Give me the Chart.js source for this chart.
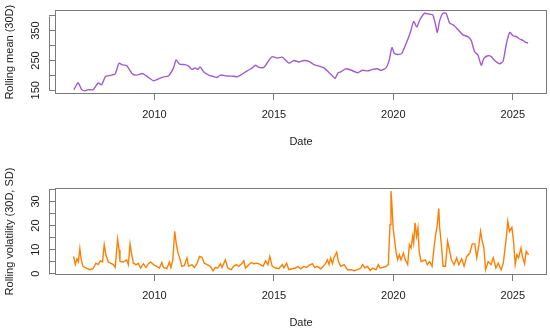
<!DOCTYPE html>
<html>
<head>
<meta charset="utf-8">
<script src="https://cdn.jsdelivr.net/npm/chart.js@4.4.1/dist/chart.umd.min.js"></script>
<style>
  body { margin: 0; background: #fff; }
  canvas { position: absolute; left: 0; }
  #meanChart { top: 0; }
  #volChart { top: 165px; }
</style>
</head>
<body>
<canvas id="meanChart" width="550" height="165"></canvas>
<canvas id="volChart" width="550" height="166"></canvas>
<script>
// x axis (decimal years)
let xTicks = [2010, 2015, 2020, 2025];

// rolling mean (30D)
let meanYears = [2006.63, 2006.81, 2006.95, 2007.09, 2007.23, 2007.44, 2007.65, 2007.79, 2007.95, 2008.14,
    2008.35, 2008.52, 2008.66, 2008.84, 2008.95, 2009.09, 2009.26, 2009.51, 2009.75, 2009.96,
    2010.17, 2010.38, 2010.59, 2010.80, 2010.91, 2011.05, 2011.29, 2011.43, 2011.57, 2011.71,
    2011.81, 2011.92, 2012.06, 2012.27, 2012.48, 2012.62, 2012.76, 2013.04, 2013.32, 2013.46,
    2013.67, 2013.88, 2014.09, 2014.23, 2014.37, 2014.58, 2014.76, 2014.93, 2015.14, 2015.35,
    2015.63, 2015.84, 2016.05, 2016.26, 2016.47, 2016.68, 2016.89, 2017.10, 2017.31, 2017.45,
    2017.56, 2017.69, 2017.80, 2018.01, 2018.22, 2018.50, 2018.71, 2018.92, 2019.13, 2019.34,
    2019.48, 2019.69, 2019.83, 2019.94, 2020.04, 2020.18, 2020.35, 2020.53, 2020.71, 2020.85,
    2020.98, 2021.10, 2021.30, 2021.51, 2021.65, 2021.75, 2021.84, 2021.93, 2022.07, 2022.21,
    2022.35, 2022.53, 2022.70, 2022.91, 2023.12, 2023.26, 2023.40, 2023.54, 2023.68, 2023.79,
    2023.96, 2024.10, 2024.24, 2024.45, 2024.59, 2024.73, 2024.87, 2025.01, 2025.15, 2025.29,
    2025.43, 2025.53, 2025.64];
let meanValues = [152, 175, 153, 148, 152, 152, 175, 168, 196, 200,
    204, 241, 235, 233, 220, 204, 201, 206, 193, 182,
    188, 195, 198, 225, 252, 238, 236, 231, 220, 225,
    220, 228, 212, 201, 196, 193, 201, 198, 197, 195,
    204, 215, 225, 234, 227, 227, 247, 263, 258, 261,
    241, 250, 245, 250, 247, 236, 231, 225, 209, 198,
    190, 209, 212, 222, 218, 209, 217, 215, 220, 222,
    217, 225, 252, 293, 274, 270, 274, 306, 344, 381,
    362, 385, 408, 405, 403, 376, 344, 381, 408, 408,
    376, 368, 354, 336, 330, 317, 279, 268, 234, 257,
    266, 263, 250, 239, 247, 306, 344, 333, 330, 322,
    317, 311, 309];
let meanTicks = [150, 200, 250, 300, 350, 400];
let meanTickLabels = [150, 250, 350];

// rolling volatility (30D, SD)
let volYears = [2006.62, 2006.69, 2006.76, 2006.82, 2006.88, 2006.93, 2007.01, 2007.15, 2007.30, 2007.43,
    2007.55, 2007.65, 2007.74, 2007.83, 2007.90, 2007.97, 2008.07, 2008.16, 2008.28, 2008.36,
    2008.46, 2008.52, 2008.56, 2008.70, 2008.84, 2008.91, 2008.98, 2009.05, 2009.12, 2009.23,
    2009.33, 2009.42, 2009.54, 2009.65, 2009.75, 2009.84, 2009.96, 2010.10, 2010.21, 2010.31,
    2010.38, 2010.52, 2010.63, 2010.69, 2010.77, 2010.85, 2010.91, 2010.98, 2011.08, 2011.15,
    2011.25, 2011.36, 2011.43, 2011.57, 2011.67, 2011.78, 2011.89, 2011.99, 2012.09, 2012.20,
    2012.34, 2012.45, 2012.55, 2012.65, 2012.76, 2012.83, 2012.97, 2013.07, 2013.21, 2013.32,
    2013.43, 2013.53, 2013.67, 2013.74, 2013.81, 2013.95, 2014.05, 2014.16, 2014.30, 2014.44,
    2014.55, 2014.65, 2014.75, 2014.83, 2014.93, 2015.07, 2015.21, 2015.35, 2015.42, 2015.53,
    2015.63, 2015.77, 2015.91, 2016.01, 2016.12, 2016.26, 2016.37, 2016.47, 2016.61, 2016.71,
    2016.82, 2016.96, 2017.07, 2017.17, 2017.24, 2017.31, 2017.38, 2017.45, 2017.52, 2017.63,
    2017.70, 2017.80, 2017.94, 2018.08, 2018.22, 2018.36, 2018.50, 2018.64, 2018.71, 2018.81,
    2018.92, 2019.03, 2019.13, 2019.27, 2019.37, 2019.45, 2019.55, 2019.69, 2019.79, 2019.86,
    2019.90, 2019.94, 2019.99, 2020.04, 2020.11, 2020.18, 2020.25, 2020.32, 2020.42, 2020.50,
    2020.60, 2020.67, 2020.74, 2020.81, 2020.85, 2020.91, 2020.97, 2021.03, 2021.08, 2021.16,
    2021.34, 2021.42, 2021.52, 2021.62, 2021.70, 2021.77, 2021.83, 2021.90, 2021.94, 2022.01,
    2022.08, 2022.18, 2022.27, 2022.33, 2022.43, 2022.54, 2022.65, 2022.74, 2022.86, 2022.96,
    2023.07, 2023.20, 2023.30, 2023.41, 2023.49, 2023.58, 2023.65, 2023.72, 2023.79, 2023.86,
    2023.97, 2024.09, 2024.18, 2024.29, 2024.39, 2024.51, 2024.60, 2024.71, 2024.79, 2024.86,
    2024.96, 2025.03, 2025.10, 2025.17, 2025.24, 2025.34, 2025.40, 2025.49, 2025.56, 2025.66];
let volValues = [7.2, 3.8, 6.2, 5.0, 10.4, 6.2, 3.1, 2.4, 1.7, 2.1,
    4.4, 3.8, 5.4, 4.9, 12.1, 7.9, 4.9, 4.4, 3.8, 2.6,
    14.4, 10.0, 5.1, 4.9, 5.8, 3.8, 12.4, 7.9, 4.4, 3.8,
    4.3, 2.4, 4.2, 2.6, 4.2, 4.9, 3.8, 3.1, 2.4, 4.7,
    2.6, 2.1, 4.9, 2.6, 5.8, 17.6, 12.8, 9.0, 5.8, 3.1,
    3.4, 6.6, 3.1, 3.8, 2.6, 4.2, 7.2, 6.8, 4.4, 3.8,
    3.1, 1.3, 2.6, 2.4, 4.2, 2.6, 5.8, 2.4, 1.7, 3.1,
    3.8, 3.1, 4.4, 5.4, 2.4, 3.8, 4.7, 4.2, 4.4, 3.8,
    3.1, 5.4, 3.8, 7.2, 3.1, 2.4, 2.1, 3.8, 2.4, 4.4,
    1.7, 2.1, 2.4, 3.1, 2.1, 3.1, 2.6, 3.5, 4.2, 2.6,
    3.1, 2.1, 3.1, 4.4, 5.8, 3.8, 6.6, 4.2, 6.8, 9.0,
    5.1, 3.1, 3.8, 1.7, 1.7, 1.3, 1.7, 2.4, 3.8, 2.4,
    3.1, 1.3, 2.4, 1.7, 3.8, 2.4, 2.6, 3.1, 3.8, 20.4,
    34.3, 28.8, 19.0, 14.9, 9.3, 5.8, 7.9, 5.8, 8.6, 5.8,
    3.8, 12.1, 10.7, 15.6, 12.8, 21.2, 15.5, 19.0, 9.3, 5.1,
    5.8, 3.8, 5.1, 3.1, 10.7, 16.3, 19.7, 27.1, 19.0, 12.0,
    3.1, 3.1, 13.5, 10.7, 5.8, 3.8, 6.6, 3.8, 6.2, 3.1,
    7.2, 8.6, 12.4, 12.4, 6.6, 12.1, 17.6, 13.5, 10.7, 1.7,
    5.1, 3.8, 6.6, 2.4, 4.4, 1.7, 4.4, 13.5, 21.8, 17.6,
    19.3, 13.5, 3.8, 7.9, 6.6, 10.7, 7.2, 4.2, 9.3, 7.9];
let volTicks = [0, 5, 10, 15, 20, 25, 30, 35];
let volTickLabels = [0, 10, 20, 30];

Chart.defaults.font.family = '"Liberation Sans", Arial, sans-serif';
Chart.defaults.font.size = 11;
Chart.defaults.color = '#1a1a1a';

let axisGrey = '#7a7a7a';

// box round the plot area plus the R style axis line between first and last tick
let boxPlugin = {
    id: 'box',
    afterDraw(chart) {
        let ctx = chart.ctx;
        let a = chart.chartArea;
        let y = chart.scales.y;
        ctx.save();
        ctx.strokeStyle = axisGrey;
        ctx.lineWidth = 1;
        ctx.strokeRect(Math.round(a.left) + 0.5, Math.round(a.top) + 0.5,
            Math.round(a.right - a.left) - 1, Math.round(a.bottom - a.top) - 1);
        let t = y.ticks;
        let x0 = Math.round(a.left) - 6 + 0.5;
        ctx.beginPath();
        ctx.moveTo(x0, Math.round(y.getPixelForValue(t[0].value)) + 0.5);
        ctx.lineTo(x0, Math.round(y.getPixelForValue(t[t.length - 1].value)) + 0.5);
        ctx.stroke();
        ctx.restore();
    }
};

function makeChart(id, years, values, color, yTicks, yLabels, yMin, yMax, yTitle, opts) {
    let ctx = document.getElementById(id).getContext('2d');
    return new Chart(ctx, {
        type: 'line',
        data: {
            datasets: [{
                data: years.map((x, i) => ({ x: x, y: values[i] })),
                borderColor: color,
                borderWidth: 1.4,
                pointRadius: 0,
                fill: false,
                tension: opts.tension
            }]
        },
        options: {
            responsive: false,
            animation: false,
            devicePixelRatio: 1,
            layout: {
                padding: { left: 0, right: 3, top: opts.top, bottom: 0 }
            },
            plugins: {
                legend: { display: false },
                tooltip: { enabled: false }
            },
            scales: {
                x: {
                    type: 'linear',
                    min: 2005.84,
                    max: 2026.43,
                    afterBuildTicks: (s) => { s.ticks = xTicks.map(v => ({ value: v })); },
                    afterFit: (s) => { s.height = opts.xHeight; },
                    border: { display: false },
                    grid: { drawOnChartArea: false, tickLength: 6, color: axisGrey },
                    ticks: {
                        autoSkip: false,
                        maxRotation: 0,
                        padding: 8.5,
                        callback: (v) => String(v)
                    },
                    title: {
                        display: true,
                        text: 'Date',
                        padding: { top: 0, bottom: opts.titlePad }
                    }
                },
                y: {
                    type: 'linear',
                    min: yMin,
                    max: yMax,
                    afterBuildTicks: (s) => { s.ticks = yTicks.map(v => ({ value: v })); },
                    afterFit: (s) => { s.width = 55; },
                    border: { display: false },
                    grid: { drawOnChartArea: false, tickLength: 6, color: axisGrey },
                    ticks: {
                        autoSkip: false,
                        minRotation: 90,
                        maxRotation: 90,
                        crossAlign: 'center',
                        padding: opts.yPad,
                        callback: (v) => yLabels.includes(v) ? String(v) : ''
                    },
                    title: {
                        display: true,
                        text: yTitle,
                        padding: { top: 3.4, bottom: 0 }
                    }
                }
            }
        },
        plugins: [boxPlugin]
    });
}

let chart1 = makeChart('meanChart', meanYears, meanValues, '#a05bd2', meanTicks, meanTickLabels,
    137.5, 418, 'Rolling mean (30D)', { top: 7, xHeight: 71, titlePad: 16.4, yPad: 3.8, tension: 0.2 });

let chart2 = makeChart('volChart', volYears, volValues, '#ff8000', volTicks, volTickLabels,
    -0.5, 35.6, 'Rolling volatility (30D, SD)', { top: 23, xHeight: 56, titlePad: 1.4, yPad: 6.9, tension: 0 });
</script>
</body>
</html>
